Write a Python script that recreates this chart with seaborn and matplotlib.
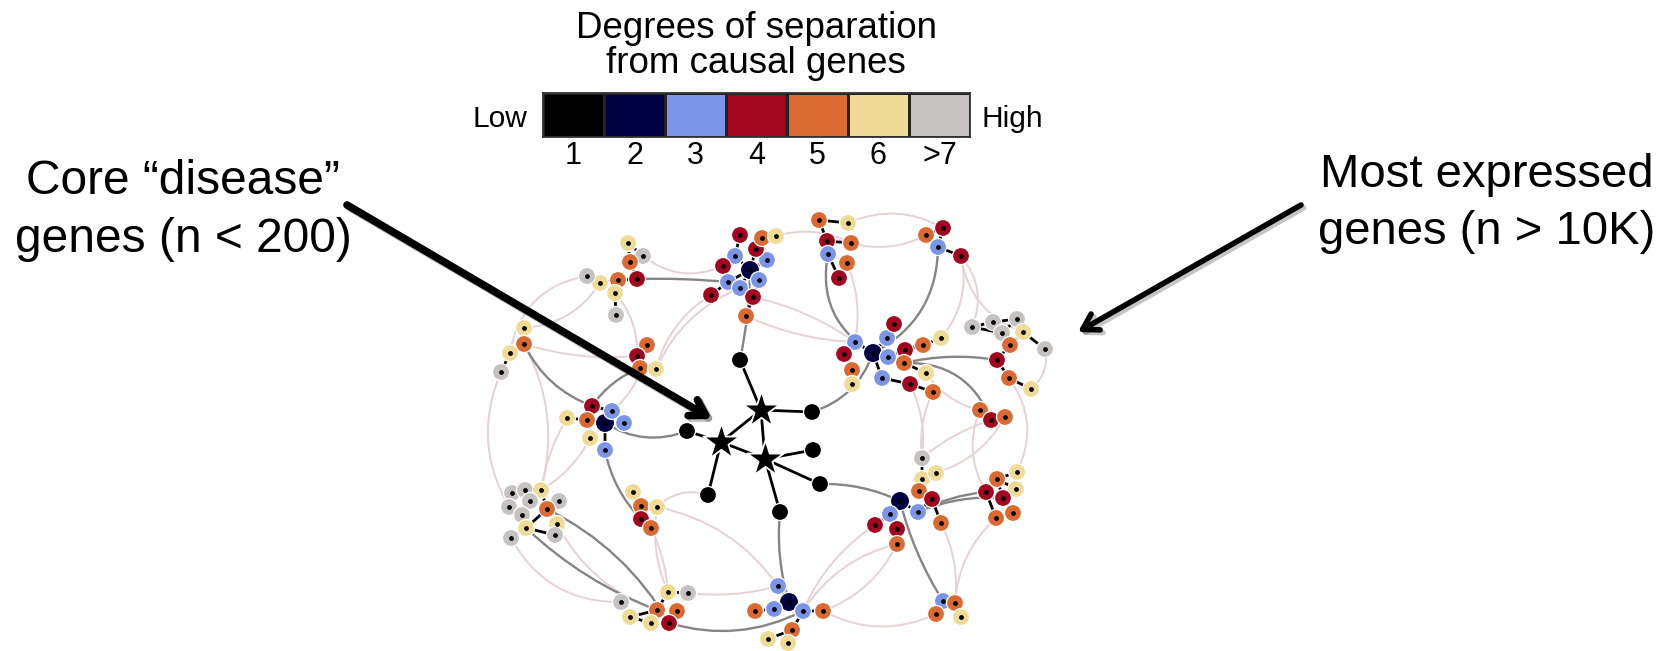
import numpy as np
import pandas as pd
import matplotlib
matplotlib.use("Agg")
import matplotlib.pyplot as plt
from matplotlib.patches import FancyArrowPatch
from matplotlib.colors import ListedColormap
import matplotlib.patheffects as pe
import seaborn as sns

# ---------------- data ----------------
legend_labels = ["1", "2", "3", "4", "5", "6", ">7"]
legend_colors = ["#000000", "#000042", "#7b95e6", "#a3061f", "#da6a31", "#f0db96", "#c6c2c1"]

# node id, x, y (pixel space of the original figure), degree of separation (0 = causal/star)
node_ids = [
    "s1", "s2", "s3", "b1", "b2", "b3", "b4", "b5", "b6", "b7",
    "a0", "a1", "a2", "a3", "a4", "a5", "a6", "a7", "a8", "a9", "a10", "a11", "a12", "a13",
    "bb0", "bb1", "bb2", "bb3", "bb4", "bb5", "bb6",
    "c0", "c1", "c2", "c3",
    "d0", "d1", "d2", "d3", "d4", "d5", "d6", "d7", "d8", "d9", "d10", "d11", "d12", "d13", "d14", "d15",
    "e0", "e1", "e2", "e3", "e4", "e5", "e6", "e7", "e8", "e9", "e10", "e11", "e12",
    "f0", "f1", "f2", "f3", "f4", "f5", "f6", "f7", "f8", "f9", "f10", "f11",
    "g0", "g1", "g2", "g3", "g4", "g5", "g6",
    "h0", "h1", "h2", "h3",
    "i0", "i1", "i2", "i3", "i4", "i5", "i6", "i7", "i8",
    "j0", "j1", "j2", "j3", "j4", "j5", "j6", "j7",
    "k0", "k1", "k2", "k3", "k4", "k5", "k6", "k7", "k8", "k9", "k10", "k11",
    "l0", "l1", "l2", "l3", "l4",
    "m0", "m1", "m2", "m3", "m4", "m5", "m6", "m7",
    "n0", "n1", "n2", "n3",
    "o0", "o1", "o2", "o3",
    "p0", "p1", "p2", "p3", "p4", "p5", "p6", "p7", "p8",
]
node_x = [
    761, 721, 765, 740, 812, 687, 813, 820, 708, 780,
    750, 740, 735, 723, 728, 740, 711, 759, 753, 746, 767, 756, 762, 776,
    819, 848, 827, 851, 828, 847, 839,
    943, 926, 938, 961,
    873, 855, 844, 852, 852, 887, 894, 888, 905, 923, 941, 904, 926, 882, 910, 933,
    972, 993, 1017, 1002, 1023, 1045, 1010, 997, 1009, 1031, 980, 991, 1005,
    900, 890, 875, 897, 897, 922, 922, 936, 919, 932, 918, 941,
    986, 997, 1017, 1016, 1003, 996, 1013,
    943, 955, 961, 936,
    789, 778, 774, 755, 803, 823, 792, 768, 788,
    668, 688, 621, 657, 677, 630, 651, 669,
    512, 525, 541, 530, 509, 522, 559, 547, 557, 526, 555, 511,
    633, 641, 657, 641, 651,
    605, 592, 612, 624, 605, 587, 567, 590,
    524, 524, 510, 501,
    647, 637, 640, 656,
    628, 643, 630, 637, 618, 600, 587, 615, 616,
]
node_y = [
    410, 442, 459, 360, 412, 431, 450, 484, 495, 512,
    270, 235, 256, 266, 282, 288, 295, 280, 297, 316, 260, 249, 238, 236,
    220, 223, 241, 243, 254, 263, 278,
    228, 235, 247, 256,
    353, 342, 354, 370, 384, 338, 324, 357, 350, 345, 338, 363, 373, 378, 384, 392,
    327, 322, 319, 333, 332, 349, 345, 360, 378, 389, 410, 420, 417,
    501, 514, 525, 529, 544, 458, 479, 473, 491, 499, 512, 523,
    492, 479, 472, 489, 498, 518, 513,
    601, 603, 617, 614,
    602, 586, 609, 611, 611, 611, 630, 639, 643,
    592, 593, 602, 610, 611, 617, 623, 623,
    493, 490, 490, 501, 507, 515, 501, 509, 524, 528, 535, 538,
    492, 506, 507, 519, 528,
    423, 406, 411, 423, 450, 420, 418, 438,
    328, 344, 353, 372,
    345, 356, 368, 369,
    243, 256, 262, 279, 280, 283, 276, 293, 315,
]
node_deg = [
    0, 0, 0, 1, 1, 1, 1, 1, 1, 1,
    2, 4, 3, 4, 3, 3, 4, 3, 4, 5, 3, 4, 5, 6,
    5, 6, 4, 5, 3, 5, 4,
    4, 5, 3, 4,
    2, 3, 4, 5, 6, 3, 4, 3, 4, 5, 6, 5, 6, 3, 4, 5,
    7, 7, 7, 7, 6, 7, 5, 4, 5, 6, 5, 4, 5,
    2, 3, 4, 4, 5, 7, 6, 6, 5, 4, 3, 5,
    4, 5, 6, 6, 4, 5, 5,
    3, 5, 6, 5,
    2, 3, 3, 5, 3, 5, 5, 6, 6,
    6, 7, 7, 5, 5, 6, 6, 4,
    7, 7, 6, 7, 7, 7, 7, 5, 6, 6, 7, 7,
    6, 5, 6, 4, 5,
    2, 4, 3, 3, 3, 5, 6, 6,
    6, 5, 6, 7,
    5, 4, 5, 6,
    6, 7, 5, 4, 5, 6, 7, 6, 7,
]

# direct interactions inside the modules (black)
edges_black = [
    ("s1", "s2"), ("s1", "s3"), ("s2", "s3"), ("s1", "b1"), ("s1", "b2"), ("s2", "b3"),
    ("s2", "b6"), ("s3", "b4"), ("s3", "b5"), ("s3", "b7"),
    ("a0", "a2"), ("a2", "a1"), ("a2", "a3"), ("a0", "a4"), ("a4", "a6"), ("a0", "a5"),
    ("a0", "a7"), ("a7", "a8"), ("a8", "a9"), ("a0", "a10"), ("a0", "a11"), ("a12", "a13"),
    ("a11", "a12"),
    ("bb0", "bb1"), ("bb0", "bb2"), ("bb2", "bb3"), ("bb2", "bb4"), ("bb4", "bb6"), ("bb6", "bb5"),
    ("c1", "c0"), ("c0", "c2"), ("c2", "c3"),
    ("d0", "d1"), ("d1", "d2"), ("d2", "d3"), ("d3", "d4"), ("d0", "d5"), ("d5", "d6"),
    ("d0", "d7"), ("d7", "d8"), ("d8", "d9"), ("d9", "d10"), ("d7", "d11"), ("d11", "d12"),
    ("d0", "d13"), ("d13", "d14"), ("d14", "d15"),
    ("e0", "e1"), ("e0", "e3"), ("e1", "e2"), ("e3", "e2"), ("e2", "e4"), ("e4", "e5"),
    ("e4", "e6"), ("e6", "e7"), ("e7", "e8"), ("e8", "e9"), ("e10", "e11"), ("e11", "e12"),
    ("f0", "f1"), ("f1", "f2"), ("f1", "f3"), ("f3", "f4"), ("f0", "f10"), ("f10", "f9"),
    ("f9", "f11"), ("f9", "f8"), ("f5", "f6"), ("f6", "f7"), ("f6", "f8"),
    ("g1", "g2"), ("g1", "g3"), ("g1", "g4"), ("g0", "g5"), ("g5", "g6"), ("g4", "g6"),
    ("h0", "h1"), ("h1", "h2"), ("h0", "h3"),
    ("i0", "i1"), ("i0", "i2"), ("i2", "i3"), ("i0", "i4"), ("i4", "i5"), ("i4", "i6"),
    ("i6", "i7"), ("i6", "i8"),
    ("j0", "j1"), ("j0", "j3"), ("j2", "j5"), ("j5", "j3"), ("j5", "j6"), ("j3", "j7"), ("j7", "j4"),
    ("k2", "k7"), ("k7", "k6"), ("k7", "k9"), ("k7", "k8"), ("k9", "k10"), ("k9", "k11"),
    ("k9", "k5"), ("k0", "k1"), ("k1", "k3"), ("k0", "k4"), ("k4", "k5"), ("k5", "k3"),
    ("l0", "l1"), ("l1", "l2"), ("l1", "l3"), ("l3", "l4"),
    ("m0", "m2"), ("m0", "m3"), ("m0", "m4"), ("m2", "m1"), ("m1", "m5"), ("m5", "m6"), ("m5", "m7"),
    ("n0", "n1"), ("n1", "n2"), ("n2", "n3"),
    ("o0", "o1"), ("o1", "o2"), ("o2", "o3"),
    ("p0", "p1"), ("p0", "p2"), ("p2", "p3"), ("p3", "p4"), ("p4", "p5"), ("p4", "p7"), ("p7", "p8"),
]

# links between modules (grey)
edges_grey = [
    ("b1", "a0"), ("b2", "d0"), ("b3", "m0"), ("b5", "f0"), ("b7", "i0"), ("a4", "p3"),
    ("bb4", "d0"), ("c2", "d0"), ("d11", "e7"), ("d11", "e11"), ("f10", "g0"), ("f10", "g4"),
    ("f0", "h0"), ("m4", "l3"), ("m1", "o2"), ("n1", "m1"), ("k7", "j7"), ("k9", "j3"),
    ("j7", "i4"),
]
grey_bend = [0.05, 0.25, -0.25, -0.12, 0.1, 0.03, 0.35, -0.3, -0.1, -0.35, -0.1, -0.12,
             0.08, 0.15, -0.15, 0.2, -0.15, 0.1, 0.2]

# weak links (faint)
edges_faint = [
    ("p1", "a3"), ("p6", "n2"), ("p7", "o1"), ("n1", "o1"), ("a6", "o3"), ("a8", "d1"),
    ("a9", "d1"), ("a13", "bb3"), ("bb1", "c0"), ("bb3", "c1"), ("c3", "e0"), ("c3", "e4"),
    ("d10", "c3"), ("e9", "e5"), ("d14", "f5"), ("d15", "f5"), ("e11", "f5"), ("e12", "f7"),
    ("g5", "h1"), ("f11", "h1"), ("f2", "i4"), ("f4", "i4"), ("i5", "h3"), ("l2", "i1"),
    ("l2", "j0"), ("l4", "j0"), ("j1", "i1"), ("k2", "m7"), ("n3", "k4"), ("n1", "k2"),
    ("k11", "j2"), ("m6", "k2"), ("m2", "o0"), ("o3", "a5"), ("b6", "l2"), ("e8", "g2"),
    ("d12", "e10"), ("p5", "n0"), ("bb5", "d1"), ("e10", "g0"), ("k8", "j3"), ("f4", "i5"),
]
faint_bend = [0.3, 0.35, -0.2, 0.1, 0.2, -0.1, 0.1, -0.2, -0.25, 0.2, -0.3, 0.3,
              0.25, 0.3, -0.15, 0.15, 0.1, -0.2, 0.2, -0.15, 0.15, 0.2, 0.25, -0.2,
              0.15, -0.1, 0.1, 0.15, 0.25, -0.2, 0.3, 0.1, 0.2, -0.2, 0.3, -0.3,
              0.2, -0.25, -0.15, 0.25, 0.2, -0.2]

# ---------------- figure ----------------
sns.set_theme(style="white")
plt.rcParams["font.family"] = ["Liberation Sans", "DejaVu Sans"]

fig = plt.figure(figsize=(16.8, 6.51), dpi=100)
ax = fig.add_axes([0, 0, 1, 1])

nodes = pd.DataFrame({"id": node_ids, "x": node_x, "y": node_y, "deg": node_deg}).set_index("id")

def add_edge(a, b, color, lw, rad, z):
    p = FancyArrowPatch((nodes.at[a, "x"], nodes.at[a, "y"]), (nodes.at[b, "x"], nodes.at[b, "y"]),
                        arrowstyle="-", connectionstyle=f"arc3,rad={rad}", color=color, lw=lw,
                        shrinkA=0, shrinkB=0, zorder=z)
    ax.add_patch(p)

for (a, b), r in zip(edges_faint, faint_bend):
    add_edge(a, b, "#e6d2d2", 1.4, r, 1)
for (a, b), r in zip(edges_grey, grey_bend):
    add_edge(a, b, "#858585", 1.7, r, 2)
for a, b in edges_black:
    add_edge(a, b, "#000000", 2.0, 0.0, 3)

palette = {i + 1: c for i, c in enumerate(legend_colors)}
size_map = {1: 150, 2: 190, 3: 150, 4: 150, 5: 150, 6: 150, 7: 150}

circ = nodes[nodes["deg"] >= 1].reset_index()
sns.scatterplot(data=circ, x="x", y="y", hue="deg", palette=palette, size="deg", sizes=size_map,
                edgecolor="white", linewidth=0.9, legend=False, ax=ax, zorder=5)
dots = nodes[nodes["deg"] >= 2].reset_index()
sns.scatterplot(data=dots, x="x", y="y", color="black", s=12, linewidth=0, legend=False, ax=ax, zorder=6)
stars = nodes[nodes["deg"] == 0].reset_index()
sns.scatterplot(data=stars, x="x", y="y", color="black", marker="*", s=760, edgecolor="white",
                linewidth=1.3, legend=False, ax=ax, zorder=6)
ax.set_xlim(0, 1680)
ax.set_ylim(651, 0)
ax.axis("off")

# ---------------- colour key ----------------
cax = fig.add_axes([543 / 1680, 1 - 137 / 651, 427 / 1680, 44 / 651])
sns.heatmap(np.arange(len(legend_labels)).reshape(1, -1), cmap=ListedColormap(legend_colors),
            vmin=-0.5, vmax=len(legend_labels) - 0.5, cbar=False, linewidths=1.0, linecolor="#222222",
            xticklabels=legend_labels, yticklabels=False, ax=cax)
cax.tick_params(axis="x", length=0, pad=3, labelsize=22, rotation=0)
for lab in cax.get_xticklabels():
    lab.set_color("black")
for sp in cax.spines.values():
    sp.set_visible(True)
    sp.set_linewidth(1.3)
    sp.set_color("#333333")

ax.text(756, 38, "Degrees of separation", ha="center", va="baseline", fontsize=26.5, color="black")
ax.text(756, 73, "from causal genes", ha="center", va="baseline", fontsize=26.5, color="black")
ax.text(500, 127, "Low", ha="center", va="baseline", fontsize=21.5, color="black")
ax.text(1012, 127, "High", ha="center", va="baseline", fontsize=21.5, color="black")

# ---------------- annotations ----------------
ax.text(183, 194, "Core \u201cdisease\u201d", ha="center", va="baseline", fontsize=34.5, color="black")
ax.text(183, 252, "genes (n < 200)", ha="center", va="baseline", fontsize=34.5, color="black")
ax.text(1487, 187, "Most expressed", ha="center", va="baseline", fontsize=34, color="black")
ax.text(1487, 244, "genes (n > 10K)", ha="center", va="baseline", fontsize=34, color="black")

shadow = [pe.SimpleLineShadow(offset=(2, -2), alpha=0.25), pe.Normal()]
ax.annotate("", xy=(712, 419), xytext=(347, 205),
            arrowprops=dict(arrowstyle="->,head_length=0.9,head_width=0.55", lw=5.5, color="black",
                            shrinkA=0, shrinkB=0, path_effects=shadow), zorder=8)
ax.annotate("", xy=(1078, 332), xytext=(1301, 205),
            arrowprops=dict(arrowstyle="->,head_length=0.9,head_width=0.55", lw=4, color="black",
                            shrinkA=0, shrinkB=0, path_effects=shadow), zorder=8)

fig.savefig("out.png", dpi=100)
